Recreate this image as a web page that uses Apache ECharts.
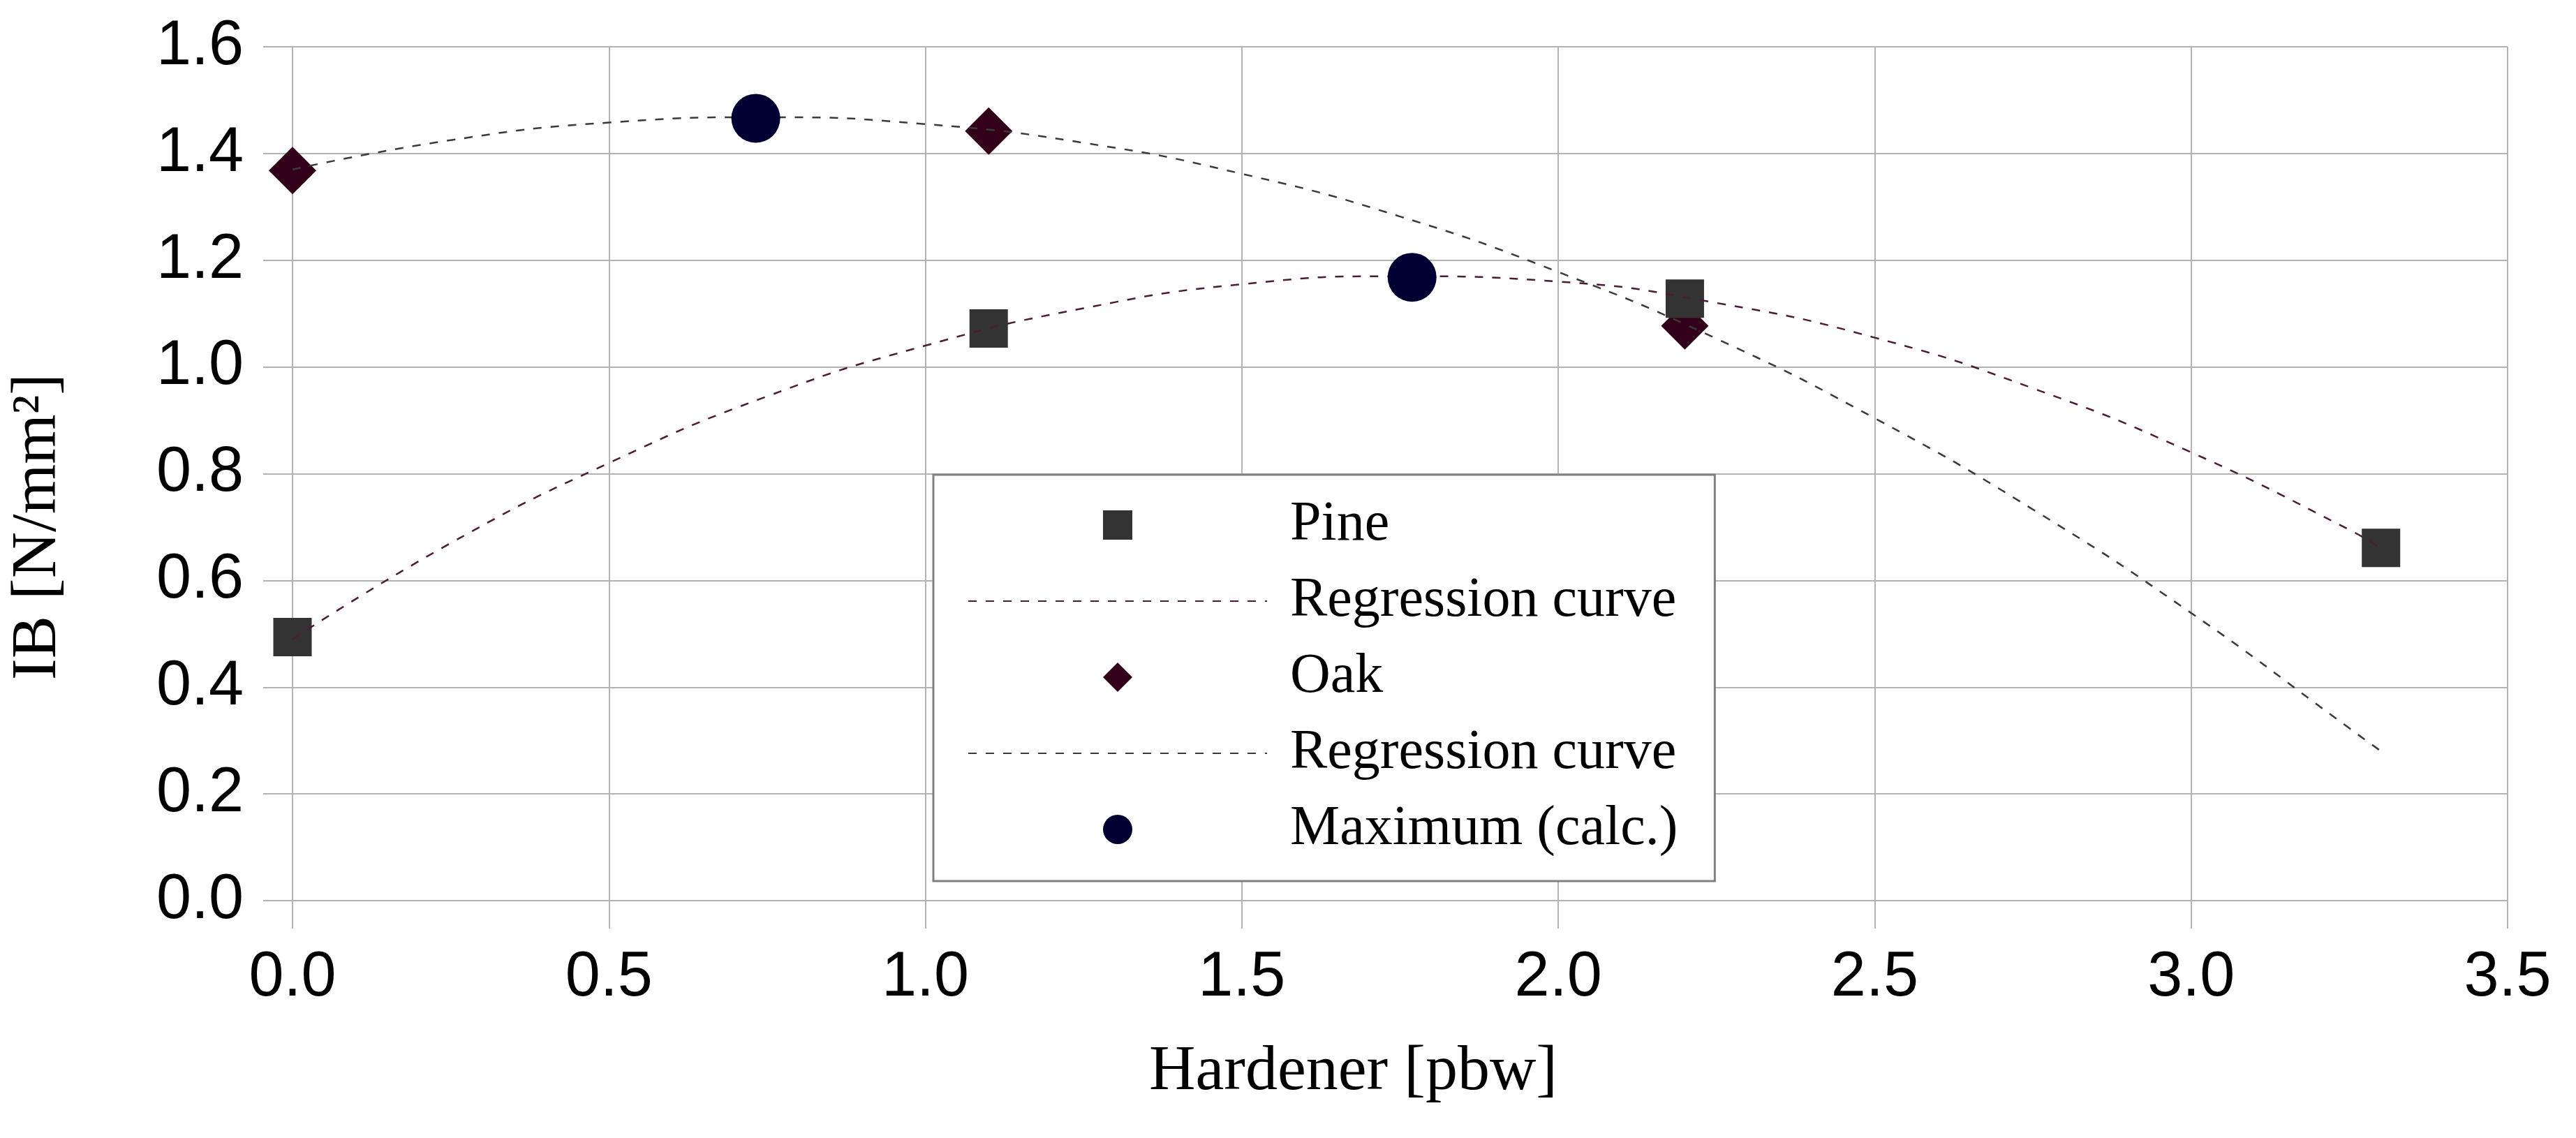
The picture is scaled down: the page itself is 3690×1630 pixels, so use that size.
<!DOCTYPE html>
<html>
<head>
<meta charset="utf-8">
<script src="https://cdn.jsdelivr.net/npm/echarts@6/dist/echarts.min.js"></script>
<style>
html,body{margin:0;padding:0;background:#fff;}
#chart{width:3690px;height:1630px;}
</style>
</head>
<body>
<div id="chart"></div>
<script>
// ---- data ----
const pineX = [0, 1.1, 2.2, 3.3];
const pineY = [0.494, 1.072, 1.128, 0.661];
const oakX = [0, 1.1, 2.2];
const oakY = [1.368, 1.442, 1.077];
const maxX = [0.732, 1.769];
const maxY = [1.466, 1.168];
const pineCurveX = [0, 0.25, 0.5, 0.75, 1.0, 1.25, 1.5, 1.75, 2.0, 2.25, 2.5, 2.75, 3.0, 3.25, 3.3];
const pineCurveY = [0.49, 0.67, 0.82, 0.945, 1.04, 1.11, 1.155, 1.17, 1.16, 1.12, 1.055, 0.96, 0.84, 0.695, 0.66];
const oakCurveX = [0, 0.25, 0.5, 0.75, 1.0, 1.25, 1.5, 1.75, 2.0, 2.25, 2.5, 2.75, 3.0, 3.25, 3.3];
const oakCurveY = [1.37, 1.425, 1.458, 1.468, 1.455, 1.42, 1.362, 1.282, 1.178, 1.053, 0.904, 0.733, 0.539, 0.323, 0.28];
const xTicks = {min: 0, max: 3.5, interval: 0.5};
const yTicks = {min: 0, max: 1.6, interval: 0.2};
const seriesNames = ['Pine', 'Regression curve (Pine)', 'Oak', 'Regression curve (Oak)', 'Maximum (calc.)'];

function pairs(xs, ys) { return xs.map((x, i) => [x, ys[i]]); }

const gridColor = '#b3b3b3';
const pineColor = '#333333';
const oakColor = '#33001a';
const maxColor = '#000033';
const pineCurveColor = '#4d1a38';
const oakCurveColor = '#3a3a3a';

// legend icons: the symbol centred inside the wide legend item box
const iconSquare = 'path://M0,0M428,42M193,0h42v42h-42z';
const iconDiamond = 'path://M0,0M428,42M214,0L235,21L214,42L193,21z';
const iconCircle = 'path://M0,0M428,42M193,21a21,21 0 1,0 42,0a21,21 0 1,0 -42,0z';
const hidden = {color: 'rgba(0,0,0,0)', opacity: 0, borderWidth: 0};

const chart = echarts.init(document.getElementById('chart'), null, {renderer: 'canvas'});
const option = {
  backgroundColor: '#ffffff',
  animation: false,
  grid: {left: 419, right: 98, top: 67, bottom: 340},
  xAxis: {
    type: 'value',
    min: xTicks.min, max: xTicks.max, interval: xTicks.interval,
    name: 'Hardener [pbw]',
    nameLocation: 'middle',
    nameGap: 200,
    nameTextStyle: {fontFamily: 'Liberation Serif', fontSize: 92, color: '#000', padding: [0, 134, 0, 0]},
    axisLine: {show: true, lineStyle: {color: gridColor, width: 2}},
    axisTick: {show: true, inside: false, length: 40, lineStyle: {color: gridColor, width: 2}},
    axisLabel: {fontFamily: 'Liberation Sans', fontSize: 90, color: '#000', margin: 66,
      formatter: v => v.toFixed(1)},
    splitLine: {show: true, lineStyle: {color: gridColor, width: 2}}
  },
  yAxis: {
    type: 'value',
    min: yTicks.min, max: yTicks.max, interval: yTicks.interval,
    name: 'IB [N/mm²]',
    nameLocation: 'middle',
    nameGap: 318,
    nameTextStyle: {fontFamily: 'Liberation Serif', fontSize: 92, color: '#000', padding: [0, 152, 0, 0]},
    axisLine: {show: true, lineStyle: {color: gridColor, width: 2}},
    axisTick: {show: true, inside: false, length: 42, lineStyle: {color: gridColor, width: 2}},
    axisLabel: {fontFamily: 'Liberation Sans', fontSize: 90, color: '#000', margin: 70,
      formatter: v => v.toFixed(1)},
    splitLine: {show: true, lineStyle: {color: gridColor, width: 2}}
  },
  legend: {
    data: [
      {name: seriesNames[0], icon: iconSquare, itemStyle: {color: pineColor, opacity: 1}},
      {name: seriesNames[1], itemStyle: hidden},
      {name: seriesNames[2], icon: iconDiamond, itemStyle: {color: oakColor, opacity: 1}},
      {name: seriesNames[3], itemStyle: hidden},
      {name: seriesNames[4], icon: iconCircle, itemStyle: {color: maxColor, opacity: 1}}
    ],
    orient: 'vertical',
    left: 1337, top: 680,
    padding: [32, 53, 34, 49],
    itemWidth: 428, itemHeight: 42, itemGap: 29,
    backgroundColor: '#ffffff',
    borderColor: '#808080', borderWidth: 3,
    selectedMode: false,
    textStyle: {fontFamily: 'Liberation Serif', fontSize: 80, color: '#000', padding: [0, 0, 0, 28]},
    formatter: name => name.startsWith('Regression curve') ? 'Regression curve' : name
  },
  series: [
    {
      name: seriesNames[0], type: 'scatter', z: 3,
      symbol: 'rect', symbolSize: 55,
      itemStyle: {color: pineColor, opacity: 1},
      data: pairs(pineX, pineY)
    },
    {
      name: seriesNames[1], type: 'line', z: 4,
      smooth: true, showSymbol: false, symbol: 'none',
      lineStyle: {color: pineCurveColor, width: 2.5, type: [12, 13]},
      itemStyle: {color: pineCurveColor},
      data: pairs(pineCurveX, pineCurveY)
    },
    {
      name: seriesNames[2], type: 'scatter', z: 2,
      symbol: 'diamond', symbolSize: 68,
      itemStyle: {color: oakColor, opacity: 1},
      data: pairs(oakX, oakY)
    },
    {
      name: seriesNames[3], type: 'line', z: 4,
      smooth: true, showSymbol: false, symbol: 'none',
      lineStyle: {color: oakCurveColor, width: 2.5, type: [12, 13]},
      itemStyle: {color: oakCurveColor},
      data: pairs(oakCurveX, oakCurveY)
    },
    {
      name: seriesNames[4], type: 'scatter', z: 5,
      symbol: 'circle', symbolSize: 70,
      itemStyle: {color: maxColor, opacity: 1},
      data: pairs(maxX, maxY)
    }
  ]
};
chart.setOption(option);
</script>
</body>
</html>
